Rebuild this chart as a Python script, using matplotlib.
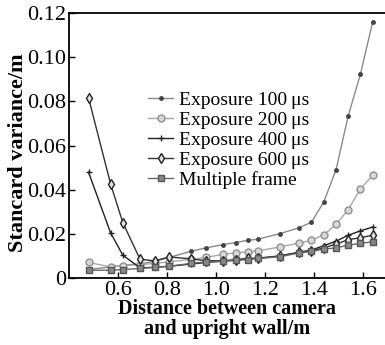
import matplotlib
matplotlib.use("Agg")
import matplotlib.pyplot as plt
from matplotlib.ticker import FuncFormatter

# distance between camera and wall (m)
distance = [0.48, 0.57, 0.62, 0.69, 0.75, 0.81, 0.90, 0.96, 1.03, 1.08,
            1.13, 1.17, 1.26, 1.34, 1.39, 1.44, 1.49, 1.54, 1.59, 1.64]

exp100 = [0.0040, 0.0052, 0.0060, 0.0065, 0.0078, 0.0095, 0.0123, 0.0138, 0.0153, 0.0162,
          0.0172, 0.0177, 0.0202, 0.0229, 0.0254, 0.0345, 0.0490, 0.0735, 0.0924, 0.1160]
exp200 = [0.0072, 0.0052, 0.0058, 0.0062, 0.0068, 0.0075, 0.0086, 0.0095, 0.0109, 0.0115,
          0.0121, 0.0124, 0.0142, 0.0160, 0.0172, 0.0197, 0.0244, 0.0311, 0.0405, 0.0466]
exp400 = [0.0480, 0.0206, 0.0105, 0.0048, 0.0050, 0.0055, 0.0065, 0.0072, 0.0078, 0.0082,
          0.0088, 0.0090, 0.0102, 0.0118, 0.0128, 0.0148, 0.0168, 0.0195, 0.0215, 0.0232]
exp600 = [0.0816, 0.0427, 0.0252, 0.0087, 0.0079, 0.0097, 0.0088, 0.0080, 0.0080, 0.0085,
          0.0090, 0.0092, 0.0100, 0.0118, 0.0125, 0.0138, 0.0155, 0.0175, 0.0184, 0.0195]
multi = [0.0037, 0.0037, 0.0040, 0.0045, 0.0050, 0.0055, 0.0068, 0.0075, 0.0078, 0.0082,
         0.0085, 0.0090, 0.0098, 0.0115, 0.0122, 0.0132, 0.0138, 0.0150, 0.0158, 0.0166]

labels = ["Exposure 100\u2009\u03bcs", "Exposure 200\u2009\u03bcs", "Exposure 400\u2009\u03bcs",
          "Exposure 600\u2009\u03bcs", "Multiple frame"]

plt.rcParams['font.family'] = ['Liberation Serif', 'DejaVu Serif']

fig = plt.figure(figsize=(3.85, 3.45), dpi=100)
ax = fig.add_axes([0.179, 0.193, 0.821, 0.77])

ax.plot(distance, exp100, color="#8a8a8a", lw=1.0, marker="o", ms=2.5,
        mfc="#444444", mec="#444444", label=labels[0])
ax.plot(distance, exp200, color="#a8a8a8", lw=1.0, marker="o", ms=5,
        mfc="#d8d8d8", mec="#909090", mew=1.0, label=labels[1])
ax.plot(distance, exp400, color="#222222", lw=1.0, marker="+", ms=5,
        mew=1.0, label=labels[2])
ax.plot(distance, exp600, color="#333333", lw=1.0, marker="d", ms=5,
        mfc="#e0e0e0", mec="#222222", mew=1.0, label=labels[3])
ax.plot(distance, multi, color="#666666", lw=1.0, marker="s", ms=4,
        mfc="#888888", mec="#555555", label=labels[4])

ax.set_xlim(0.4, 1.69)
ax.set_ylim(0, 0.12)
ax.set_xticks([0.6, 0.8, 1.0, 1.2, 1.4, 1.6])
ax.set_yticks([0, 0.02, 0.04, 0.06, 0.08, 0.10, 0.12])
ax.yaxis.set_major_formatter(FuncFormatter(lambda v, p: "0" if v == 0 else "%.2f" % v))
ax.xaxis.set_major_formatter(FuncFormatter(lambda v, p: "%.1f" % v))
ax.tick_params(direction="in", length=4, width=1, labelsize=16, pad=2)
for s in ax.spines.values():
    s.set_linewidth(1.3)
ax.spines["right"].set_visible(False)

ax.set_ylabel("Stancard variance/m", fontsize=16, fontweight="bold")
ax.yaxis.set_label_coords(-0.13, 0.475)
ax.set_xlabel("Distance between camera\nand upright wall/m", fontsize=14.5,
              fontweight="bold", labelpad=-1, linespacing=1.0)

ax.legend(loc="upper left", bbox_to_anchor=(0.25, 0.705), frameon=False,
          fontsize=14, handlelength=1.3, handletextpad=0.3, labelspacing=0.12,
          borderpad=0, borderaxespad=0)

fig.savefig("out.png", dpi=100)
